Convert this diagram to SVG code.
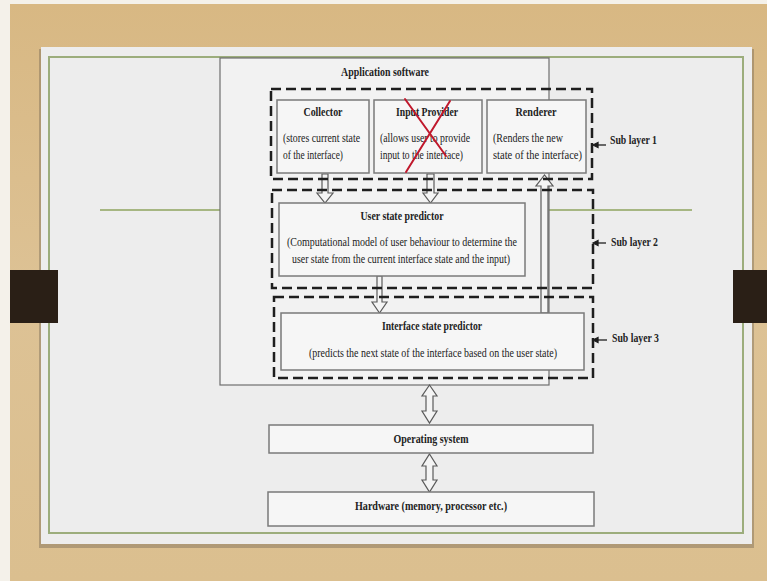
<svg xmlns="http://www.w3.org/2000/svg" width="767" height="581" viewBox="0 0 767 581">
<defs>
<linearGradient id="wood" x1="0" y1="0" x2="0" y2="1">
<stop offset="0" stop-color="#d8b883"/>
<stop offset="0.5" stop-color="#ddc295"/>
<stop offset="1" stop-color="#dbbf8f"/>
</linearGradient>
<style>
.box{fill:#f6f6f6;stroke:#7a7a7a;stroke-width:1.5}
.dash{fill:none;stroke:#1e1e1e;stroke-width:2.5;stroke-dasharray:10 5}
.arr{fill:#f4f4f4;stroke:#5a5a5a;stroke-width:1.2;stroke-linejoin:miter}
.t{font-family:"Liberation Serif","Times New Roman",serif;font-size:12px;fill:#222}
.b{font-weight:bold;font-size:12.5px}
.c{text-anchor:middle}
.lbl{font-family:"Liberation Serif","Times New Roman",serif;font-size:12.5px;font-weight:bold;fill:#222}
</style>
</defs>
<rect x="0" y="0" width="767" height="581" fill="#f4f1ea"/>
<rect x="10" y="4" width="757" height="577" fill="url(#wood)"/>
<rect x="39" y="49" width="715" height="499" fill="#6e6150" opacity="0.4"/>
<rect x="41" y="47" width="711" height="497" fill="#ededed"/>
<rect x="49" y="57" width="694" height="476" fill="none" stroke="#9cad7c" stroke-width="2"/>
<line x1="100" y1="210" x2="692" y2="210" stroke="#a6b682" stroke-width="2"/>
<rect x="10" y="270" width="48" height="53" fill="#2a1f16"/>
<rect x="733" y="270" width="34" height="53" fill="#2a1f16"/>

<g id="application-software">
<rect x="220" y="58" width="329" height="327" fill="#f2f2f2" stroke="#6e6e6e" stroke-width="1.2"/>
<text class="t b c" x="385" y="76" textLength="88" lengthAdjust="spacingAndGlyphs">Application  software</text>
</g>

<g id="connectors">
<polygon class="arr" points="322,174 328,174 328,193 333,193 325,203 317,193 322,193"/>
<polygon class="arr" points="427,174 434,174 434,193 438,193 430.5,203 423,193 427,193"/>
<polygon class="arr" points="377,276 382,276 382,302 387,302 379.5,313 372,302 377,302"/>
<polygon class="arr" points="541,313 548,313 548,186 553,186 544.5,175 536,186 541,186"/>
<polygon class="arr" points="429.5,385 437,396 433,396 433,411 437,411 429.5,423 422,411 426,411 426,396 422,396"/>
<polygon class="arr" points="429.5,454 437,466 433,466 433,480 437,480 429.5,492 422,480 426,480 426,466 422,466"/>
<g stroke="#1e1e1e" stroke-width="1.3" fill="#1e1e1e">
<line x1="596" y1="145" x2="606" y2="145"/><polygon points="593,145 598,142.5 598,147.5"/>
<line x1="596" y1="243" x2="606" y2="243"/><polygon points="593,243 598,240.5 598,245.5"/>
<line x1="596" y1="340" x2="607" y2="340"/><polygon points="593,340 598,337.5 598,342.5"/>
</g>
</g>

<g id="collector">
<rect class="box" x="277" y="100" width="92" height="73"/>
<text class="t b c" x="323" y="116" textLength="39" lengthAdjust="spacingAndGlyphs">Collector</text>
<text class="t" x="283" y="142" textLength="77" lengthAdjust="spacingAndGlyphs">(stores current state</text>
<text class="t" x="283" y="159" textLength="60" lengthAdjust="spacingAndGlyphs">of the interface)</text>
</g>

<g id="input-provider">
<rect class="box" x="374" y="100" width="108" height="73"/>
<text class="t b c" x="427" y="116" textLength="62" lengthAdjust="spacingAndGlyphs">Input Provider</text>
<text class="t" x="380" y="142" textLength="90" lengthAdjust="spacingAndGlyphs">(allows  user to provide</text>
<text class="t" x="380" y="159" textLength="83" lengthAdjust="spacingAndGlyphs">input to the interface)</text>
<g stroke="#c0182c" stroke-width="2" stroke-linecap="round">
<line x1="405" y1="99" x2="446" y2="156"/>
<line x1="450" y1="101" x2="406" y2="172"/>
</g>
</g>

<g id="renderer">
<rect class="box" x="487" y="100" width="99" height="73"/>
<text class="t b c" x="536" y="116" textLength="41" lengthAdjust="spacingAndGlyphs">Renderer</text>
<text class="t" x="493" y="142" textLength="70" lengthAdjust="spacingAndGlyphs">(Renders the new</text>
<text class="t" x="493" y="159" textLength="89" lengthAdjust="spacingAndGlyphs">state of the interface)</text>
</g>

<g id="user-state-predictor">
<rect class="box" x="279" y="203" width="246" height="73"/>
<text class="t b c" x="402" y="220" textLength="83" lengthAdjust="spacingAndGlyphs">User state predictor</text>
<text class="t c" x="402" y="246" textLength="230" lengthAdjust="spacingAndGlyphs">(Computational  model  of user behaviour  to determine  the</text>
<text class="t c" x="401" y="263" textLength="218" lengthAdjust="spacingAndGlyphs">user state from the current interface  state and the input)</text>
</g>

<g id="interface-state-predictor">
<rect class="box" x="281" y="313" width="303" height="57"/>
<text class="t b c" x="432" y="330" textLength="100" lengthAdjust="spacingAndGlyphs">Interface state predictor</text>
<text class="t c" x="433" y="357" textLength="248" lengthAdjust="spacingAndGlyphs">(predicts the next state of the interface  based on the user state)</text>
</g>

<g id="sub-layers">
<rect class="dash" x="271" y="89" width="321" height="90"/>
<rect class="dash" x="272" y="190" width="321" height="98"/>
<rect class="dash" x="274" y="297" width="319" height="81"/>
<text id="sub-layer-1" class="lbl" x="610" y="144" textLength="47" lengthAdjust="spacingAndGlyphs">Sub layer 1</text>
<text id="sub-layer-2" class="lbl" x="611" y="246" textLength="47" lengthAdjust="spacingAndGlyphs">Sub layer 2</text>
<text id="sub-layer-3" class="lbl" x="612" y="342" textLength="47" lengthAdjust="spacingAndGlyphs">Sub layer 3</text>
</g>

<g id="operating-system">
<rect class="box" x="269" y="425" width="324" height="28"/>
<text class="t b c" x="431" y="443" textLength="75" lengthAdjust="spacingAndGlyphs">Operating  system</text>
</g>

<g id="hardware">
<rect class="box" x="268" y="492" width="326" height="34"/>
<text class="t b c" x="431" y="510" textLength="152" lengthAdjust="spacingAndGlyphs">Hardware  (memory,  processor etc.)</text>
</g>
</svg>
